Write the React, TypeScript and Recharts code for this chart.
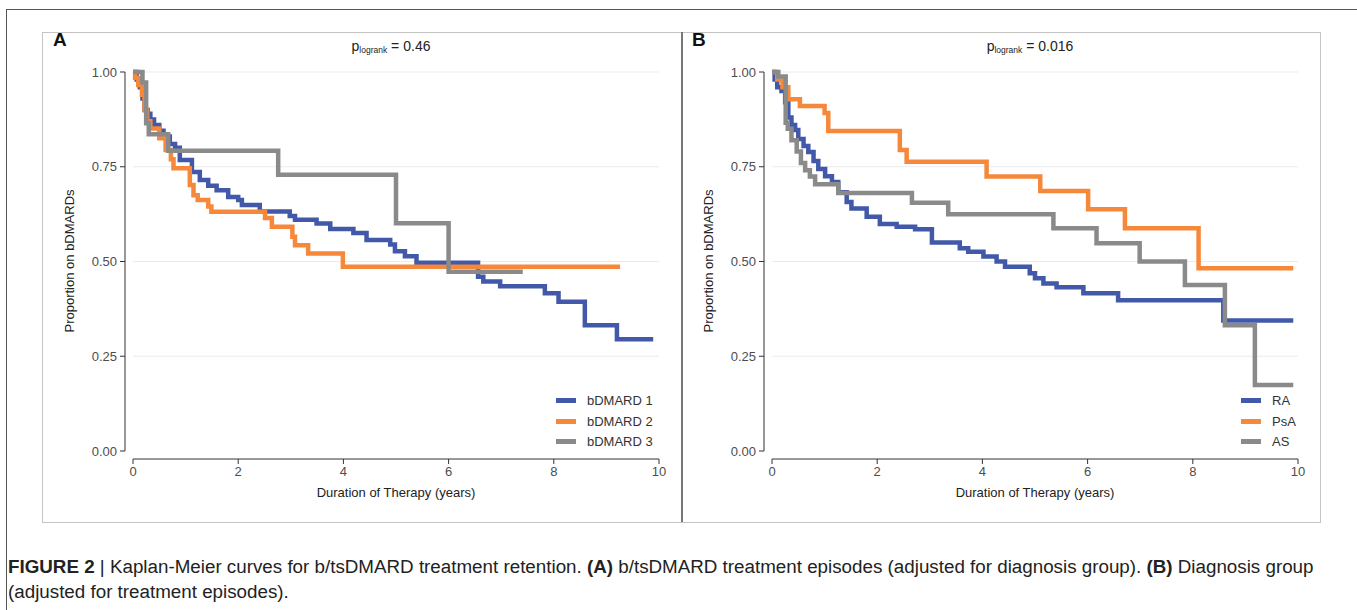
import React from "react";
import { LineChart, Line, XAxis, YAxis, CartesianGrid } from "recharts";

// ---------- Panel A: b/tsDMARD treatment episodes ----------
const aBlueTime = [0, 0.07, 0.13, 0.18, 0.22, 0.28, 0.33, 0.4, 0.5, 0.58, 0.7, 0.8, 0.89, 1.12, 1.27, 1.43, 1.59, 1.81, 2.0, 2.07, 2.41, 2.98, 3.08, 3.49, 3.75, 4.19, 4.44, 4.89, 4.98, 5.17, 5.39, 6.56, 6.66, 6.98, 7.83, 8.09, 8.59, 9.2, 9.89];
const aBlueSurv = [1.0, 0.98, 0.96, 0.93, 0.9, 0.89, 0.875, 0.86, 0.845, 0.83, 0.81, 0.8, 0.768, 0.736, 0.715, 0.7, 0.688, 0.67, 0.662, 0.649, 0.632, 0.62, 0.61, 0.6, 0.586, 0.575, 0.557, 0.545, 0.527, 0.514, 0.497, 0.46, 0.447, 0.435, 0.416, 0.394, 0.332, 0.295, 0.295];
const aOrangeTime = [0, 0.04, 0.1, 0.17, 0.22, 0.27, 0.33, 0.5, 0.62, 0.72, 0.77, 1.08, 1.15, 1.23, 1.43, 1.49, 2.51, 2.64, 3.03, 3.08, 3.33, 3.99, 9.26];
const aOrangeSurv = [1.0, 0.985, 0.966, 0.94, 0.9, 0.87, 0.851, 0.825, 0.794, 0.77, 0.746, 0.702, 0.675, 0.662, 0.645, 0.631, 0.615, 0.592, 0.565, 0.543, 0.521, 0.486, 0.486];
const aGrayTime = [0, 0.18, 0.25, 0.3, 0.67, 2.76, 5.0, 6.0, 7.41];
const aGraySurv = [1.0, 0.972, 0.865, 0.836, 0.792, 0.729, 0.601, 0.473, 0.473];
const aNames = ["bDMARD 1", "bDMARD 2", "bDMARD 3"];

// ---------- Panel B: diagnosis group ----------
const bBlueTime = [0, 0.05, 0.1, 0.18, 0.25, 0.31, 0.37, 0.44, 0.5, 0.6, 0.69, 0.79, 0.88, 1.01, 1.14, 1.26, 1.42, 1.51, 1.8, 2.05, 2.37, 2.72, 3.04, 3.57, 3.73, 4.02, 4.27, 4.43, 4.9, 5.0, 5.16, 5.41, 5.92, 6.58, 8.58, 9.91];
const bBlueSurv = [1.0, 0.98, 0.96, 0.95, 0.92, 0.88, 0.86, 0.847, 0.823, 0.805, 0.789, 0.765, 0.744, 0.725, 0.71, 0.683, 0.657, 0.64, 0.618, 0.599, 0.592, 0.585, 0.55, 0.535, 0.526, 0.513, 0.5, 0.486, 0.469, 0.456, 0.442, 0.432, 0.416, 0.398, 0.344, 0.344];
const bOrangeTime = [0, 0.1, 0.2, 0.31, 0.53, 1.0, 1.07, 2.43, 2.56, 4.08, 5.1, 6.01, 6.71, 8.11, 9.91];
const bOrangeSurv = [1.0, 0.98, 0.96, 0.928, 0.91, 0.892, 0.844, 0.794, 0.763, 0.724, 0.686, 0.638, 0.588, 0.482, 0.482];
const bGrayTime = [0, 0.12, 0.26, 0.3, 0.37, 0.47, 0.55, 0.63, 0.72, 0.82, 1.26, 2.66, 3.35, 5.35, 6.17, 6.99, 7.85, 8.61, 9.18, 9.91];
const bGraySurv = [1.0, 0.988, 0.866, 0.85, 0.82, 0.79, 0.76, 0.741, 0.724, 0.704, 0.681, 0.655, 0.625, 0.588, 0.548, 0.5, 0.438, 0.332, 0.174, 0.174];
const bNames = ["RA", "PsA", "AS"];

const xTicks = [0, 2, 4, 6, 8, 10];
const yTicks = [0, 0.25, 0.5, 0.75, 1];
const gridValues = [0.25, 0.5, 0.75, 1];
const colors = ["#4259A9", "#F5883A", "#8A8A8A"];

const FONT = "'Liberation Sans', Arial, Helvetica, sans-serif";

const toPoints = (t: number[], s: number[]) => t.map((v, i) => ({ t: v, s: s[i] }));

const YTick = (props: any) => {
  const { x, y, payload } = props;
  return (
    <text x={x - 9} y={y} dy="0.355em" textAnchor="end" fontSize={13} fill="#4d4d4d" fontFamily={FONT}>
      {Number(payload.value).toFixed(2)}
    </text>
  );
};

const XTick = (props: any) => {
  const { x, y, payload } = props;
  return (
    <text x={x} y={y + 9} dy="0.71em" textAnchor="middle" fontSize={13} fill="#4d4d4d" fontFamily={FONT}>
      {payload.value}
    </text>
  );
};

type PanelProps = {
  left: number;
  letter: string;
  pValue: string;
  names: string[];
  legendLeft: number;
  series: { t: number; s: number }[][];
};

const Panel = ({ left, letter, pValue, names, legendLeft, series }: PanelProps) => (
  <div style={{ position: "absolute", left, top: 0, width: 680, height: 520 }}>
    <div style={{ position: "absolute", left: 53, top: 29, fontFamily: FONT, fontWeight: "bold", fontSize: 19, lineHeight: "22px", color: "#111" }}>
      {letter}
    </div>
    <div style={{ position: "absolute", left: 128, width: 526, top: 37, textAlign: "center", fontFamily: FONT, fontSize: 14, lineHeight: "18px", color: "#222" }}>
      p<sub style={{ fontSize: 8.5, verticalAlign: "-2px" }}>logrank</sub> = {pValue}
    </div>
    <div style={{ position: "absolute", left: 70 - 100, top: 261 - 9, width: 200, height: 18, textAlign: "center", transform: "rotate(-90deg)", fontFamily: FONT, fontSize: 13, lineHeight: "18px", color: "#222" }}>
      Proportion on bDMARDs
    </div>
    <div style={{ position: "absolute", left: 133, width: 526, top: 484, textAlign: "center", fontFamily: FONT, fontSize: 13, lineHeight: "18px", color: "#222" }}>
      Duration of Therapy (years)
    </div>
    <div style={{ position: "absolute", left: 0, top: 0 }}>
      <LineChart width={680} height={520} margin={{ top: 72, left: 73, right: 21, bottom: 29 }}>
        <CartesianGrid vertical={false} horizontalValues={gridValues} stroke="#ebebeb" strokeWidth={1.2} />
        <XAxis
          type="number"
          dataKey="t"
          domain={[0, 10]}
          ticks={xTicks}
          height={40}
          tickSize={5}
          tickMargin={2}
          axisLine={{ stroke: "#333", strokeWidth: 1, transform: "translate(0,8)" }}
          tickLine={{ stroke: "#333", strokeWidth: 1, transform: "translate(0,8)" }}
          tick={<XTick />}
          interval={0}
        />
        <YAxis
          type="number"
          dataKey="s"
          domain={[0, 1]}
          ticks={yTicks}
          width={60}
          tickSize={5}
          tickMargin={2}
          axisLine={{ stroke: "#333", strokeWidth: 1, transform: "translate(-8,0)" }}
          tickLine={{ stroke: "#333", strokeWidth: 1, transform: "translate(-8,0)" }}
          tick={<YTick />}
          interval={0}
        />
        {series.map((d, i) => (
          <Line
            key={names[i]}
            data={d}
            dataKey="s"
            name={names[i]}
            type="stepAfter"
            stroke={colors[i]}
            strokeWidth={4.5}
            dot={false}
            activeDot={false}
            isAnimationActive={false}
          />
        ))}
      </LineChart>
    </div>
    <div style={{ position: "absolute", left: legendLeft, top: 390, fontFamily: FONT, fontSize: 13, color: "#333" }}>
      {names.map((n, i) => (
        <div key={n} style={{ display: "flex", alignItems: "center", height: 20.8 }}>
          <div style={{ width: 20, height: 5, background: colors[i], marginRight: 11 }} />
          <span>{n}</span>
        </div>
      ))}
    </div>
  </div>
);

export default function App() {
  const seriesA = [toPoints(aBlueTime, aBlueSurv), toPoints(aOrangeTime, aOrangeSurv), toPoints(aGrayTime, aGraySurv)];
  const seriesB = [toPoints(bBlueTime, bBlueSurv), toPoints(bOrangeTime, bOrangeSurv), toPoints(bGrayTime, bGraySurv)];
  return (
    <div style={{ position: "absolute", left: 0, top: 0, width: 1357, height: 610, overflow: "hidden", background: "#fff" }}>
      <div style={{ position: "absolute", left: 6, top: 9, width: 1400, height: 700, border: "1px solid #555" }} />
      <div style={{ position: "absolute", left: 42, top: 32, width: 1277, height: 489, border: "1px solid #c4c4c4" }} />
      <div style={{ position: "absolute", left: 681, top: 32, width: 1.5, height: 490, background: "#777" }} />
      <Panel left={0} letter="A" pValue="0.46" names={aNames} legendLeft={556} series={seriesA} />
      <Panel left={639} letter="B" pValue="0.016" names={bNames} legendLeft={602} series={seriesB} />
      <div style={{ position: "absolute", left: 8, top: 554, fontFamily: FONT, fontSize: 18.8, lineHeight: "25px", color: "#222", whiteSpace: "nowrap" }}>
        <b>FIGURE 2</b> | Kaplan-Meier curves for b/tsDMARD treatment retention. <b>(A)</b> b/tsDMARD treatment episodes (adjusted for diagnosis group). <b>(B)</b> Diagnosis group
        <br />
        (adjusted for treatment episodes).
      </div>
    </div>
  );
}
